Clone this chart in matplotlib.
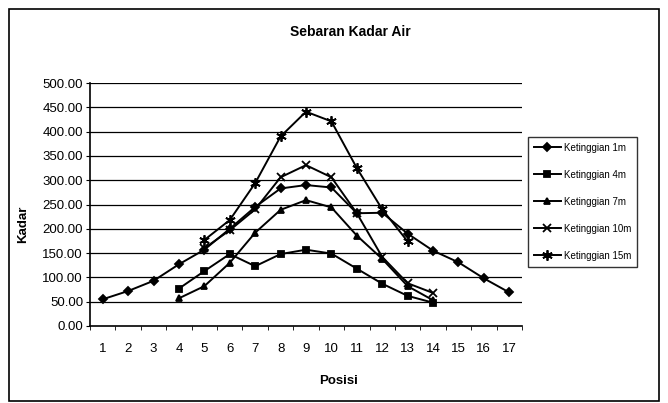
import numpy as np
import matplotlib
matplotlib.use('Agg')
from matplotlib import pyplot as plt
from matplotlib.patches import Rectangle

# values
posisi = list(range(1, 18))
k1 = [55, 72, 93, 127, 157, 200, 245, 283, 290, 285, 232, 233, 190, 155, 131, 98, 69]
k4_pos = list(range(4, 15))
k4 = [77, 113, 148, 123, 148, 157, 149, 118, 87, 62, 48]
k7_pos = list(range(4, 15))
k7 = [57, 82, 130, 192, 239, 259, 244, 186, 138, 82, 53]
k10_pos = list(range(5, 15))
k10 = [160, 197, 240, 306, 331, 306, 232, 142, 88, 68]
k15_pos = list(range(5, 14))
k15 = [177, 218, 294, 390, 441, 421, 325, 240, 174]
labels = ['Ketinggian 1m', 'Ketinggian 4m', 'Ketinggian 7m', 'Ketinggian 10m', 'Ketinggian 15m']
yticks = np.arange(0, 501, 50)

plt.rcParams['font.family'] = ['Liberation Sans', 'DejaVu Sans']

fig = plt.figure(figsize=(6.68, 4.03), dpi=100)
ax = fig.add_axes([90/668, 1-326/403, (522-90)/668, (326-83)/403])

series = [(posisi, k1, 'D', 4.5), (k4_pos, k4, 's', 4.5), (k7_pos, k7, '^', 5),
          (k10_pos, k10, 'x', 5.5), (k15_pos, k15, (6, 2, 0), 7.5)]
for (xs, ys, m, ms), lab in zip(series, labels):
    ax.plot(xs, ys, color='black', lw=1.4, marker=m, ms=ms, mew=1.3,
            mfc='black', mec='black', label=lab, zorder=3)

ax.set_xlim(0.5, 17.5)
ax.set_ylim(0, 500)
ax.set_yticks(yticks)
ax.set_yticklabels(['%.2f' % v for v in yticks], fontsize=9.5)
for v in yticks[1:]:
    ax.axhline(v, color='black', lw=0.9, zorder=1)

ax.set_xticks(posisi)
ax.set_xticklabels([str(p) for p in posisi], fontsize=9.5)
ax.set_xticks(np.arange(0.5, 18, 1), minor=True)
ax.tick_params(axis='x', which='major', length=0, pad=12)
ax.tick_params(axis='x', which='minor', length=3, direction='out')
ax.tick_params(axis='y', length=3, direction='out', pad=2)

for s in ['top', 'right']:
    ax.spines[s].set_visible(False)
ax.spines['left'].set_linewidth(1.2)
ax.spines['bottom'].set_linewidth(1.2)

ax.set_xlabel('Posisi', fontsize=9.5, fontweight='bold')
ax.xaxis.set_label_coords(0.575, -0.2)
ax.set_ylabel('Kadar', fontsize=9.5, fontweight='bold')
ax.yaxis.set_label_coords(-0.14, 0.42)

fig.text(350/668, 1-32/403, 'Sebaran Kadar Air', fontsize=10, fontweight='bold',
         ha='center', va='center')

leg = ax.legend(loc='upper left', bbox_to_anchor=(528/668, 1-137/403),
                bbox_transform=fig.transFigure, fontsize=7, frameon=True,
                fancybox=False, edgecolor='black', labelspacing=1.75,
                handlelength=2.8, handletextpad=0.3, borderpad=0.6,
                borderaxespad=0)
leg.get_frame().set_linewidth(1.0)

fig.patches.append(Rectangle((9/668, 2/403), 650/668, 392/403, transform=fig.transFigure,
                             fill=False, edgecolor='black', lw=1.2))

fig.savefig('out.png', dpi=100)
